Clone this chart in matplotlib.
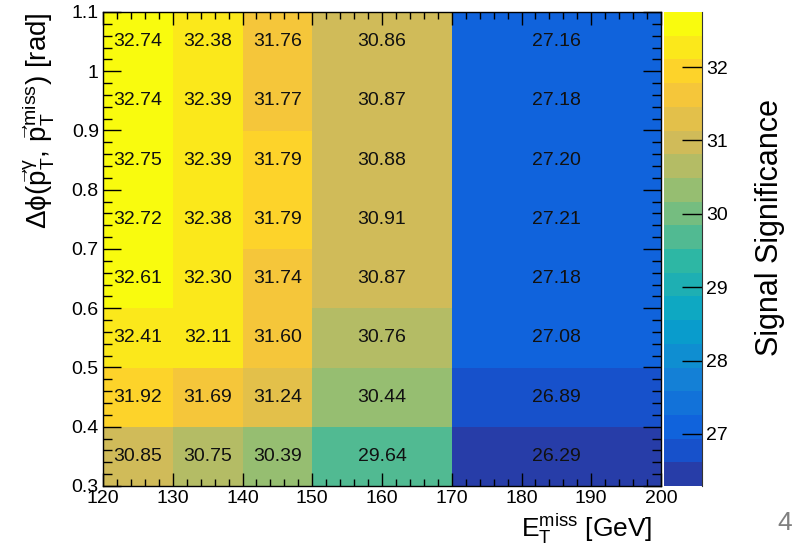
import numpy as np, matplotlib
matplotlib.use("Agg")
import matplotlib.pyplot as plt
from matplotlib.colors import ListedColormap, BoundaryNorm, LinearSegmentedColormap
from matplotlib.ticker import MultipleLocator, FuncFormatter

plt.rcParams['font.family'] = ['Liberation Sans', 'DejaVu Sans']
plt.rcParams['mathtext.fontset'] = 'custom'
plt.rcParams['mathtext.rm'] = 'Liberation Sans'
plt.rcParams['mathtext.it'] = 'Liberation Sans'
plt.rcParams['mathtext.bf'] = 'Liberation Sans:bold'

# bin edges
met_edges = [120, 130, 140, 150, 170, 200]
dphi_edges = [0.3, 0.4, 0.5, 0.6, 0.7, 0.8, 0.9, 1.0, 1.1]

# significance per bin, rows = dphi bins (bottom to top), cols = MET bins
sig_03 = [30.85, 30.75, 30.39, 29.64, 26.29]
sig_04 = [31.92, 31.69, 31.24, 30.44, 26.89]
sig_05 = [32.41, 32.11, 31.60, 30.76, 27.08]
sig_06 = [32.61, 32.30, 31.74, 30.87, 27.18]
sig_07 = [32.72, 32.38, 31.79, 30.91, 27.21]
sig_08 = [32.75, 32.39, 31.79, 30.88, 27.20]
sig_09 = [32.74, 32.39, 31.77, 30.87, 27.18]
sig_10 = [32.74, 32.38, 31.76, 30.86, 27.16]
sig = np.array([sig_03, sig_04, sig_05, sig_06, sig_07, sig_08, sig_09, sig_10])

# ROOT kBird palette, 20 contour levels
r = [0.2082, 0.0592, 0.0780, 0.0232, 0.1802, 0.5301, 0.8186, 0.9956, 0.9764]
g = [0.1664, 0.3599, 0.5041, 0.6419, 0.7178, 0.7492, 0.7328, 0.7862, 0.9832]
b = [0.5293, 0.8684, 0.8385, 0.7914, 0.6425, 0.4662, 0.3499, 0.1968, 0.0539]
bird = LinearSegmentedColormap.from_list("bird", list(zip(np.linspace(0, 1, 9), zip(r, g, b))))
ncont = 20
cmap = ListedColormap([bird((i + 0.99) / ncont) for i in range(ncont)])
zmin, zmax = sig.min(), sig.max()
levels = np.linspace(zmin, zmax, ncont + 1)
norm = BoundaryNorm(levels, ncont)

fig = plt.figure(figsize=(7.94, 5.56), dpi=100)
ax = fig.add_axes([103/794, 70/556, 558/794, 474/556])
cax = fig.add_axes([664/794, 70/556, 38/794, 474/556])

mesh = ax.pcolormesh(met_edges, dphi_edges, sig, cmap=cmap, norm=norm)

xc = 0.5 * (np.array(met_edges[:-1]) + np.array(met_edges[1:]))
yc = 0.5 * (np.array(dphi_edges[:-1]) + np.array(dphi_edges[1:]))
for i, y in enumerate(yc):
    for j, x in enumerate(xc):
        ax.text(x, y, f"{sig[i, j]:.2f}", ha="center", va="center",
                fontsize=14, color="#111111")

ax.set_xlim(120, 200)
ax.set_ylim(0.3, 1.1)
ax.xaxis.set_major_locator(MultipleLocator(10))
ax.xaxis.set_minor_locator(MultipleLocator(2))
ax.yaxis.set_major_locator(MultipleLocator(0.1))
ax.yaxis.set_minor_locator(MultipleLocator(0.02))
ax.yaxis.set_major_formatter(FuncFormatter(lambda v, p: f"{v:g}"))
ax.tick_params(which="both", direction="in", top=True, right=True, labelsize=14, width=1)
ax.tick_params(axis="x", which="major", length=9.5, pad=3)
ax.tick_params(axis="x", which="minor", length=4.8)
ax.tick_params(axis="y", which="major", length=13, pad=3)
ax.tick_params(axis="y", which="minor", length=6.5)
for s in ax.spines.values():
    s.set_linewidth(1)

ax.text(0.985, -0.108, r"$\mathregular{E_{T}^{miss}}$ [GeV]", transform=ax.transAxes,
        ha="right", va="baseline", fontsize=19)
ax.text(-0.1165, 1.0, r"$\Delta\phi(\vec{p}_{T}^{\gamma},\, \vec{p}_{T}^{miss})$ [rad]",
        transform=ax.transAxes, rotation=90, ha="center", va="top", fontsize=20)

cb = fig.colorbar(mesh, cax=cax, ticks=[27, 28, 29, 30, 31, 32])
cb.outline.set_visible(False)
cb.minorticks_off()
cax.tick_params(direction="in", length=14.5, width=1, labelsize=14, pad=3, color="k")
cax.plot([1, 1], [0, 1], transform=cax.transAxes, color="#333333", lw=0.8, clip_on=False)
fig.text(770/794, 1 - 228/556, "Signal Significance", rotation=90,
         ha="center", va="center", fontsize=22)

fig.text(785/794, 1 - 523/556, "4", ha="center", va="center", fontsize=19, color="#808080")

fig.savefig("out.png", dpi=100)
